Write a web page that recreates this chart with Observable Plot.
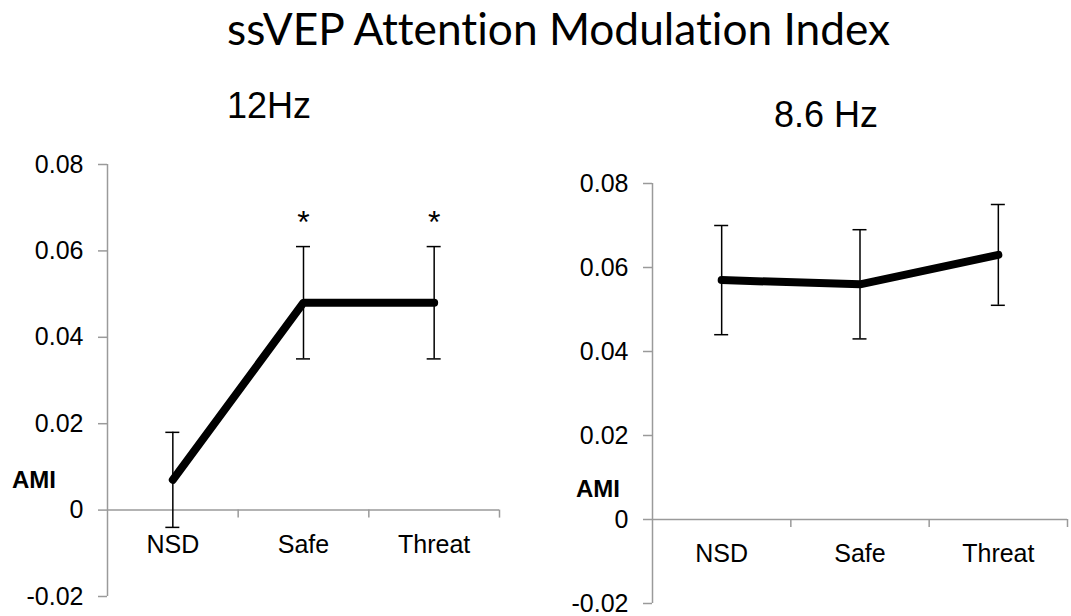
<!DOCTYPE html>
<html>
<head>
<meta charset="utf-8">
<script src="https://cdn.jsdelivr.net/npm/d3@7"></script>
<script src="https://cdn.jsdelivr.net/npm/@observablehq/plot@0.6"></script>
<style>
  html, body { margin: 0; padding: 0; background: #fff; }
  #root { position: relative; width: 1071px; height: 616px; overflow: hidden; background: #fff; }
  #root > * { position: absolute; }
  text { font-variant-ligatures: none; }
</style>
</head>
<body>
<div id="root"></div>
<script>
// ---- data ----
const title = "ssVEP Attention Modulation Index";
const panelTitles = ["12Hz", "8.6 Hz"];
const categories = ["NSD", "Safe", "Threat"];
const ami12 = [0.007, 0.048, 0.048];
const err12 = [0.011, 0.013, 0.013];
const sig12 = ["", "*", "*"];
const ami86 = [0.057, 0.056, 0.063];
const err86 = [0.013, 0.013, 0.012];
const sig86 = ["", "", ""];
const yTicks = [-0.02, 0, 0.02, 0.04, 0.06, 0.08];
const yLabel = "AMI";

const axisColor = "#9a9a9a";
const font = "'Liberation Sans', Arial, sans-serif";
const fmt = d => d === 0 ? "0" : d.toFixed(2);

function panel({values, errs, sig, width, marginLeft, marginRight, marginTop, marginBottom, labelDy}) {
  const rows = categories.map((c, i) => ({c, pos: i + 0.5, v: values[i], e: errs[i], s: sig[i]}));
  return Plot.plot({
    width, height: 616,
    marginLeft, marginRight, marginTop, marginBottom,
    style: {fontFamily: font, background: "transparent", overflow: "visible", color: "black"},
    x: {domain: [0, categories.length], axis: null},
    y: {domain: [yTicks[0], yTicks[yTicks.length - 1]]},
    marks: [
      Plot.ruleX([0], {stroke: axisColor, strokeWidth: 1.5}),
      Plot.ruleY([0], {stroke: axisColor, strokeWidth: 1.5}),
      Plot.axisY({ticks: yTicks, tickSize: 9, tickPadding: 15, tickFormat: fmt, fontSize: 25,
                  stroke: axisColor, strokeWidth: 1.5, fill: "black", label: null}),
      Plot.ruleX(d3.range(1, categories.length + 1), {x: d => d, y1: () => 0, y2: () => 0, insetBottom: -8,
                  stroke: axisColor, strokeWidth: 1.5}),
      Plot.text(rows, {x: "pos", y: () => 0, text: "c", dy: labelDy, fontSize: 25, fill: "black"}),
      Plot.ruleX(rows, {x: "pos", y1: d => d.v - d.e, y2: d => d.v + d.e, stroke: "black", strokeWidth: 1.5}),
      Plot.ruleY(rows, {y: d => d.v + d.e, x1: "pos", x2: "pos", insetLeft: -7, insetRight: -7, stroke: "black", strokeWidth: 1.5}),
      Plot.ruleY(rows, {y: d => d.v - d.e, x1: "pos", x2: "pos", insetLeft: -7, insetRight: -7, stroke: "black", strokeWidth: 1.5}),
      Plot.line(rows, {x: "pos", y: "v", stroke: "black", strokeWidth: 8, strokeLinecap: "round", strokeLinejoin: "round"}),
      Plot.text(rows.filter(d => d.s), {x: "pos", y: d => d.v + d.e, text: "s", lineAnchor: "bottom", dy: -14, fontSize: 32, fill: "black"})
    ]
  });
}

const root = document.getElementById("root");

const left = panel({values: ami12, errs: err12, sig: sig12, width: 530,
  marginLeft: 107, marginRight: 31, marginTop: 164, marginBottom: 20, labelDy: 35});
left.style.left = "0px"; left.style.top = "0px";
root.appendChild(left);

const right = panel({values: ami86, errs: err86, sig: sig86, width: 531,
  marginLeft: 112, marginRight: 4, marginTop: 183, marginBottom: 13, labelDy: 34});
right.style.left = "540px"; right.style.top = "0px";
root.appendChild(right);

// overlay texts (title, panel titles, axis labels)
const ctx = document.createElement("canvas").getContext("2d");
ctx.font = "100px Lato";
const titleSize = 100 * 666 / ctx.measureText(title).width;

const svg = d3.create("svg").attr("width", 1071).attr("height", 616)
  .style("left", "0px").style("top", "0px").style("pointer-events", "none");
svg.append("text").attr("x", 227).attr("y", 45).attr("font-family", "Lato, sans-serif")
  .attr("font-size", titleSize).attr("fill", "black").text(title);
svg.append("text").attr("x", 227).attr("y", 118).attr("font-family", font)
  .attr("font-size", 36).attr("fill", "black").text(panelTitles[0]);
svg.append("text").attr("x", 774).attr("y", 127).attr("font-family", font)
  .attr("font-size", 36).attr("fill", "black").text(panelTitles[1]);
svg.append("text").attr("x", 12).attr("y", 488).attr("font-family", font).attr("font-weight", "bold")
  .attr("font-size", 24).attr("fill", "black").text(yLabel);
svg.append("text").attr("x", 576).attr("y", 496.5).attr("font-family", font).attr("font-weight", "bold")
  .attr("font-size", 24).attr("fill", "black").text(yLabel);
root.appendChild(svg.node());
</script>
</body>
</html>
